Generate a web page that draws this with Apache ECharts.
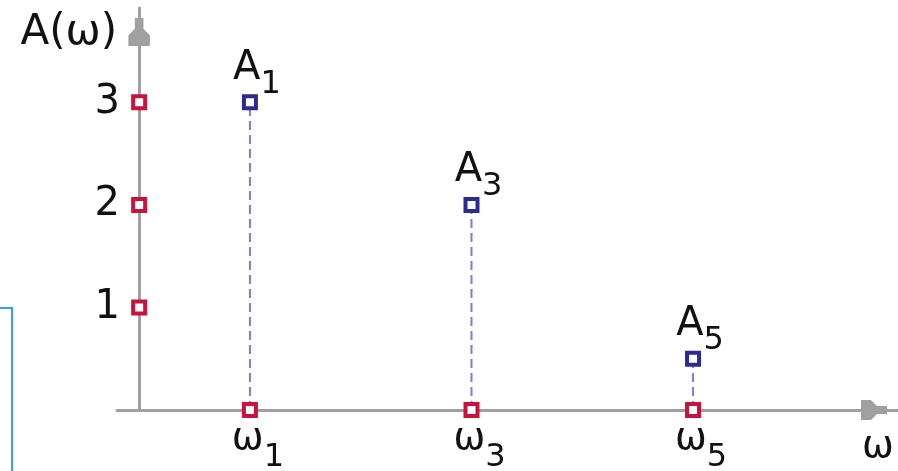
<!DOCTYPE html>
<html>
<head>
<meta charset="utf-8">
<script src="https://cdn.jsdelivr.net/npm/echarts@6/dist/echarts.min.js"></script>
<style>
  html, body { margin: 0; padding: 0; background: #fff; }
  #chart { width: 898px; height: 471px; }
</style>
</head>
<body>
<div id="chart"></div>
<script>
// Line spectrum: amplitude A(ω) of the odd harmonics
const harmonicOrders = [1, 3, 5];        // positions ω1, ω3, ω5 on the frequency axis
const amplitudes = [3, 2, 0.5];          // A1, A3, A5
const harmonicNames = ['1', '3', '5'];   // subscripts used on ω and A
const yTickValues = [1, 2, 3];
const yTickLabels = ['1', '2', '3'];

const FONT = 'DejaVu Sans';
const RED = '#c8143c';
const BLUE = '#2b2b92';
const STEM = '#7c7cd8';
const AXIS = '#a0a0a0';

// stepped arrow head pointing along the axis direction
const ARROW = 'path://M3,0 L7,0 L7,5 L10,8 L10,13 L0,13 L0,8 L3,5 Z';

const chart = echarts.init(document.getElementById('chart'), null, { renderer: 'canvas' });

const markerStyle = (c) => ({ color: '#ffffff', borderColor: c, borderWidth: 4, opacity: 1 });

// rich-text tokens are centred in the line; top padding on the
// subscript token pushes its glyphs down below the main letter
const stemSeries = harmonicOrders.map((w, i) => ({
  type: 'line',
  data: [
    { value: [w, 0], itemStyle: markerStyle(RED), label: { show: false } },
    { value: [w, amplitudes[i]], itemStyle: markerStyle(BLUE) }
  ],
  symbol: 'rect',
  symbolSize: 12,
  showAllSymbol: true,
  lineStyle: { color: STEM, width: 2, type: [9, 5] },
  label: {
    show: true,
    position: 'top',
    distance: 0,
    offset: [7, 6],
    formatter: '{a|A}{s|' + harmonicNames[i] + '}',
    rich: {
      a: { fontFamily: FONT, fontSize: 40, color: '#111' },
      s: { fontFamily: FONT, fontSize: 32, color: '#111', padding: [32, 0, 0, 0] }
    }
  },
  emphasis: { disabled: true },
  z: 3
}));

const tickSeries = {
  type: 'scatter',
  data: yTickValues.map(v => [0, v]),
  symbol: 'rect',
  symbolSize: 12,
  itemStyle: markerStyle(RED),
  emphasis: { disabled: true },
  z: 4
};

chart.setOption({
  animation: false,
  backgroundColor: '#ffffff',
  grid: { left: 117, right: 0, top: 8, bottom: 61, containLabel: false, outerBoundsMode: 'none' },
  xAxis: {
    type: 'value',
    min: -0.2,
    max: 6.85,
    splitLine: { show: false },
    axisTick: { show: false },
    axisLine: {
      onZero: true,
      lineStyle: { color: AXIS, width: 3 },
      symbol: ['none', ARROW],
      symbolSize: [20, 26],
      symbolOffset: [0, -24]
    },
    axisLabel: {
      customValues: harmonicOrders,
      margin: -6,
      padding: [0, 0, 0, 16],
      formatter: (v) => '{w|ω}{s|' + harmonicNames[harmonicOrders.indexOf(v)] + '}',
      rich: {
        w: { fontFamily: FONT, fontSize: 38, color: '#111' },
        s: { fontFamily: FONT, fontSize: 32, color: '#111', padding: [38, 0, 0, 0] }
      }
    },
    name: 'ω',
    nameLocation: 'end',
    nameGap: -36,
    nameTextStyle: {
      fontFamily: FONT, fontSize: 38, color: '#111',
      align: 'left', verticalAlign: 'top', padding: [18, 0, 0, 0]
    }
  },
  yAxis: {
    type: 'value',
    min: 0,
    max: 3.92,
    splitLine: { show: false },
    axisTick: { show: false },
    axisLine: {
      onZero: true,
      lineStyle: { color: AXIS, width: 3 },
      symbol: ['none', ARROW],
      symbolSize: [22, 28],
      symbolOffset: [0, -24]
    },
    axisLabel: {
      customValues: yTickValues,
      margin: -3,
      padding: [4, 0, 0, 0],
      formatter: (v) => yTickLabels[yTickValues.indexOf(v)] || '',
      fontFamily: FONT, fontSize: 40, color: '#111'
    },
    name: 'A(ω)',
    nameLocation: 'end',
    nameGap: -25,
    nameTextStyle: {
      fontFamily: FONT, fontSize: 42, color: '#111',
      align: 'right', verticalAlign: 'middle', padding: [0, 22, 0, 0]
    }
  },
  series: [...stemSeries, tickSeries],
  graphic: [{
    type: 'polyline',
    shape: { points: [[0, 308], [12, 308], [12, 471]] },
    style: { stroke: '#3a9cf5', lineWidth: 2, fill: null },
    silent: true
  }]
});
</script>
</body>
</html>
